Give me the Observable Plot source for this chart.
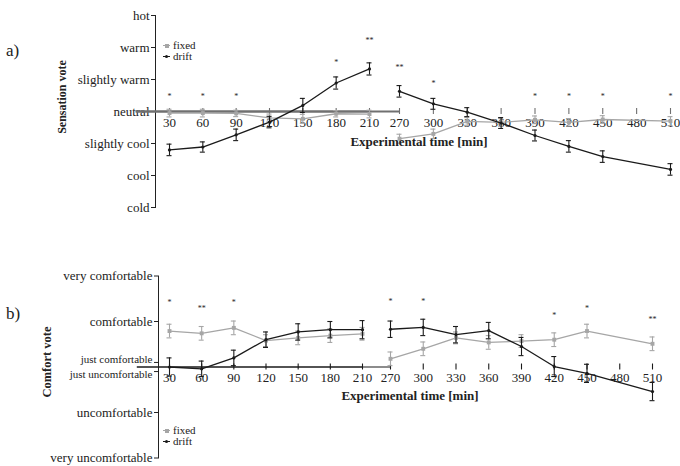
<!DOCTYPE html>
<html>
<head>
<meta charset="utf-8">
<script src="https://cdn.jsdelivr.net/npm/d3@7"></script>
<script src="https://cdn.jsdelivr.net/npm/@observablehq/plot@0.6"></script>
<style>
  html, body { margin: 0; padding: 0; background: #fff; }
  #wrap { position: relative; width: 680px; height: 466px; overflow: hidden; font-family: "Liberation Serif", "DejaVu Serif", serif; color: #222; }
  .abs { position: absolute; white-space: nowrap; }
  .panelLabel { font-size: 17px; }
  .ylab { font-weight: bold; transform: translate(-50%, -50%) rotate(-90deg); }
  .xlab { font-size: 13px; font-weight: bold; transform: translate(-50%, -50%); }
  .leg { font-size: 11px; line-height: 11px; }
  .leg .row { position: relative; height: 11px; padding-left: 10px; }
  .leg .ln { position: absolute; left: 0; top: 5px; width: 7px; height: 1.3px; }
  .leg .mk { position: absolute; left: 2px; top: 4px; width: 3.5px; height: 3.5px; }
</style>
</head>
<body>
<div id="wrap"></div>
<script>
// ---------- data ----------
const times = [30, 60, 90, 120, 150, 180, 210, 270, 300, 330, 360, 390, 420, 450, 510];
const segment = [1, 1, 1, 1, 1, 1, 1, 2, 2, 2, 2, 2, 2, 2, 2];
const xTickValues = [30, 60, 90, 120, 150, 180, 210, 270, 300, 330, 360, 390, 420, 450, 480, 510];

// a) thermal sensation
const sensTickValues = [3, 2, 1, 0, -1, -2, -3];
const sensTickLabels = ["hot", "warm", "slightly warm", "neutral", "slightly cool", "cool", "cold"];
const sensFixed   = [-0.05, -0.05, -0.06, -0.20, -0.23, -0.07, -0.08, -0.85, -0.70, -0.31, -0.34, -0.26, -0.34, -0.25, -0.30];
const sensFixedSE = [0.12, 0.12, 0.10, 0.12, 0.14, 0.10, 0.12, 0.14, 0.15, 0.12, 0.12, 0.12, 0.12, 0.12, 0.14];
const sensDrift   = [-1.20, -1.11, -0.73, -0.33, 0.19, 0.89, 1.33, 0.63, 0.24, -0.02, -0.36, -0.75, -1.09, -1.41, -1.81];
const sensDriftSE = [0.18, 0.16, 0.18, 0.18, 0.22, 0.19, 0.19, 0.18, 0.17, 0.14, 0.17, 0.17, 0.18, 0.18, 0.18];
const sensSigTimes = [30, 60, 90, 180, 210, 270, 300, 390, 420, 450, 510];
const sensSigMarks = ["*", "*", "*", "*", "**", "**", "*", "*", "*", "*", "*"];
const sensSigY     = [0.56, 0.56, 0.56, 1.6, 2.3, 1.44, 0.97, 0.56, 0.56, 0.56, 0.56];

// b) thermal comfort
const comfTickValues = [2, 1, 0.1, -0.1, -1, -2];
const comfTickLabels = ["very comfortable", "comfortable", "just comfortable", "just uncomfortable", "uncomfortable", "very uncomfortable"];
const comfNarrowTicks = [0.1, -0.1];   // the two closely spaced labels
const comfFixed   = [0.79, 0.74, 0.86, 0.58, 0.64, 0.69, 0.73, 0.18, 0.40, 0.64, 0.54, 0.57, 0.60, 0.79, 0.51];
const comfFixedSE = [0.15, 0.15, 0.15, 0.13, 0.15, 0.15, 0.14, 0.15, 0.15, 0.13, 0.15, 0.14, 0.15, 0.15, 0.15];
const comfDrift   = [0.00, -0.04, 0.20, 0.60, 0.77, 0.82, 0.82, 0.83, 0.87, 0.71, 0.80, 0.45, 0.01, -0.14, -0.54];
const comfDriftSE = [0.20, 0.17, 0.17, 0.17, 0.18, 0.18, 0.20, 0.18, 0.18, 0.18, 0.18, 0.20, 0.22, 0.20, 0.20];
const comfSigTimes = [30, 60, 90, 270, 300, 420, 450, 510];
const comfSigMarks = ["*", "**", "*", "*", "*", "*", "*", "**"];
const comfSigY     = [1.48, 1.35, 1.48, 1.50, 1.50, 1.18, 1.35, 1.09];

const seriesNames = ["fixed", "drift"];
const seriesColors = {fixed: "#a6a6a6", drift: "#1a1a1a"};
const FONT = "Liberation Serif";

// ---------- helpers ----------
function rows(vals, ses, name) {
  return times.map((t, i) => ({t, seg: segment[i], v: vals[i], se: ses[i], series: name}));
}
function sigRows(ts, ms, ys) {
  return ts.map((t, i) => ({t, m: ms[i], y: ys[i]}));
}

function panel(opts) {
  const {fixed, drift, sig, yDomain, yTicks, yLabels, narrow = [], xRange, axisStroke, axisWidth,
         width, height, marginLeft, marginRight, marginTop, marginBottom} = opts;
  const labelOf = new Map(yTicks.map((v, i) => [v, yLabels[i]]));
  const markSeries = (data, name) => {
    const c = seriesColors[name];
    return [
      Plot.line(data, {x: "t", y: "v", z: "seg", stroke: c, strokeWidth: 1.3}),
      Plot.ruleX(data, {x: "t", y1: d => d.v - d.se, y2: d => d.v + d.se, stroke: c, strokeWidth: 1.1}),
      Plot.ruleY(data, {y: d => d.v + d.se, x1: "t", x2: "t", insetLeft: -2.5, insetRight: -2.5, stroke: c, strokeWidth: 1.1}),
      Plot.ruleY(data, {y: d => d.v - d.se, x1: "t", x2: "t", insetLeft: -2.5, insetRight: -2.5, stroke: c, strokeWidth: 1.1}),
      name === "fixed"
        ? Plot.dot(data, {x: "t", y: "v", symbol: "square", r: 2.2, fill: c, stroke: null})
        : Plot.dot(data, {x: "t", y: "v", r: 1.6, fill: c, stroke: null})
    ];
  };
  const narrowText = (vals, dy) => Plot.text(vals, {y: d => d, text: d => labelOf.get(d), frameAnchor: "left",
    textAnchor: "end", dx: -6, dy, fontSize: 11, fill: "#222"});
  return Plot.plot({
    width, height, marginLeft, marginRight, marginTop, marginBottom,
    style: {fontFamily: FONT, fontSize: "13px", color: "#222", background: "transparent", overflow: "visible"},
    x: {type: "linear", domain: [30, 210, 270, 510], range: xRange, axis: null},
    y: {type: "linear", domain: yDomain, ticks: yTicks,
        tickFormat: d => narrow.includes(d) ? "" : labelOf.get(d),
        tickSize: 4, tickPadding: 2, line: true, label: null},
    marks: [
      // labels of the two closely spaced ticks, slightly smaller and nudged apart
      narrowText(narrow.filter(d => d > 0), -2.5),
      narrowText(narrow.filter(d => d < 0), 3),
      // x-axis drawn at zero, broken between the two sessions
      Plot.ruleY([0], {x2: 210, stroke: axisStroke, strokeWidth: axisWidth}),
      Plot.ruleY([0], {x1: 270, stroke: axisStroke, strokeWidth: axisWidth}),
      Plot.ruleX(xTickValues, {x: d => d, y1: 0, y2: 0, insetTop: -3, insetBottom: -3, stroke: axisStroke, strokeWidth: 1.1}),
      Plot.text(xTickValues, {x: d => d, y: 0, dy: 11, text: d => String(d), fill: "#222", fontSize: 13}),
      ...markSeries(fixed, "fixed"),
      ...markSeries(drift, "drift"),
      Plot.text(sig, {x: "t", y: "y", text: "m", fontSize: 8, dy: 2.5, fill: "#222"})
    ]
  });
}

const wrap = document.getElementById("wrap");

const pa = panel({
  fixed: rows(sensFixed, sensFixedSE, "fixed"),
  drift: rows(sensDrift, sensDriftSE, "drift"),
  sig: sigRows(sensSigTimes, sensSigMarks, sensSigY),
  yDomain: [-3, 3], yTicks: sensTickValues, yLabels: sensTickLabels,
  xRange: [169, 369, 399, 670], axisStroke: "#707070", axisWidth: 2,
  width: 680, height: 230, marginLeft: 155, marginRight: 0, marginTop: 15, marginBottom: 23
});
pa.style.position = "absolute"; pa.style.left = "0px"; pa.style.top = "0px";
wrap.appendChild(pa);

const pb = panel({
  fixed: rows(comfFixed, comfFixedSE, "fixed"),
  drift: rows(comfDrift, comfDriftSE, "drift"),
  sig: sigRows(comfSigTimes, comfSigMarks, comfSigY),
  yDomain: [-2, 2], yTicks: comfTickValues, yLabels: comfTickLabels, narrow: comfNarrowTicks,
  xRange: [169, 362, 390, 652], axisStroke: "#1a1a1a", axisWidth: 1.2,
  width: 680, height: 236, marginLeft: 158, marginRight: 17, marginTop: 45.5, marginBottom: 8.5
});
pb.style.position = "absolute"; pb.style.left = "0px"; pb.style.top = "230px";
wrap.appendChild(pb);

// ---------- annotations ----------
function addDiv(cls, text, css) {
  const d = document.createElement("div");
  d.className = "abs " + cls;
  d.textContent = text;
  Object.assign(d.style, css);
  wrap.appendChild(d);
  return d;
}
addDiv("panelLabel", "a)", {left: "6px", top: "41px"});
addDiv("panelLabel", "b)", {left: "6px", top: "304px"});
addDiv("ylab", "Sensation vote", {left: "62px", top: "97px", fontSize: "12px"});
addDiv("ylab", "Comfort vote", {left: "47px", top: "362px", fontSize: "12.5px"});
addDiv("xlab", "Experimental time [min]", {left: "419px", top: "142px"});
addDiv("xlab", "Experimental time [min]", {left: "410px", top: "396px"});

function legend(left, top) {
  const lg = document.createElement("div");
  lg.className = "abs leg";
  lg.style.left = left + "px"; lg.style.top = top + "px";
  seriesNames.forEach(name => {
    const r = document.createElement("div");
    r.className = "row";
    const ln = document.createElement("span"); ln.className = "ln"; ln.style.background = seriesColors[name];
    const mk = document.createElement("span"); mk.className = "mk"; mk.style.background = seriesColors[name];
    if (name === "drift") { mk.style.width = "3px"; mk.style.height = "3px"; mk.style.borderRadius = "50%"; }
    r.appendChild(ln); r.appendChild(mk);
    r.appendChild(document.createTextNode(name));
    lg.appendChild(r);
  });
  wrap.appendChild(lg);
}
legend(163, 40);
legend(163, 425);
</script>
</body>
</html>
